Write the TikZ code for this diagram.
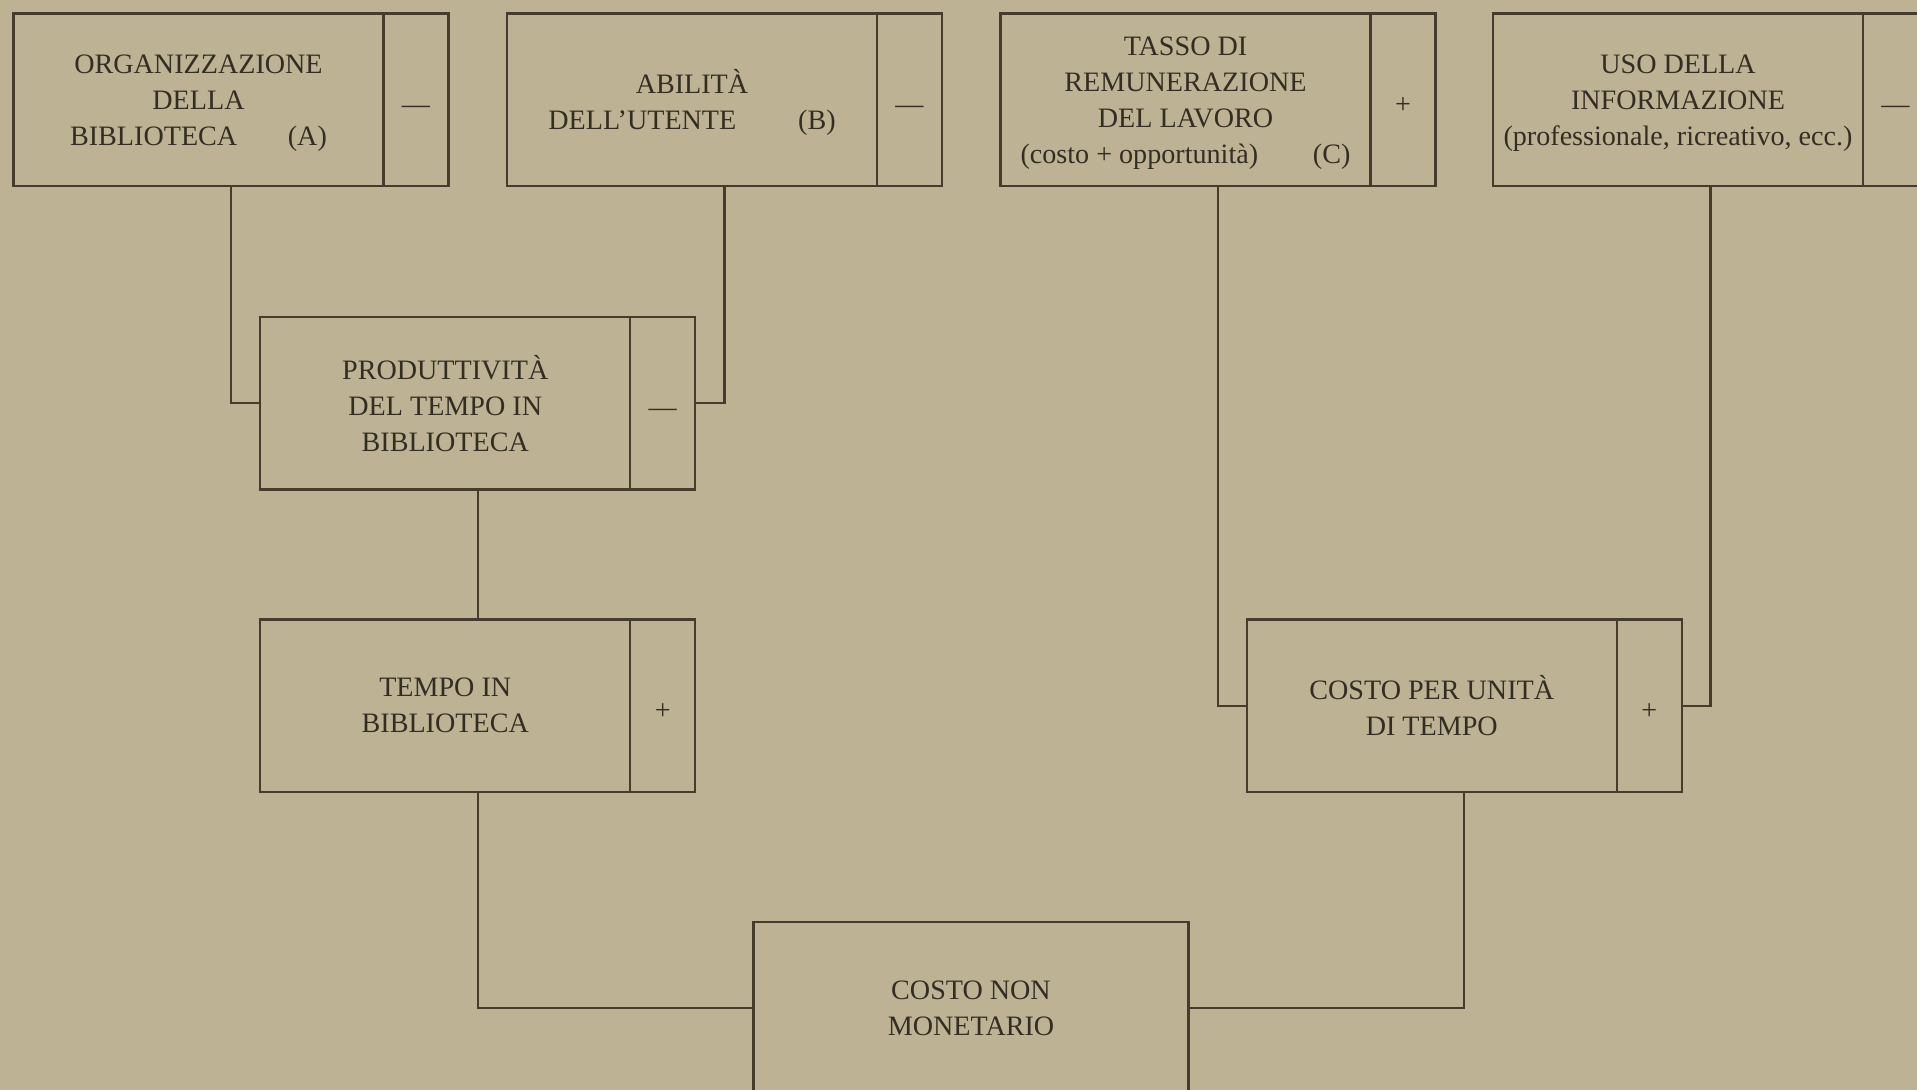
\documentclass[tikz,border=0pt]{standalone}
\usepackage{fontspec}
\setmainfont{Liberation Serif}
\usetikzlibrary{positioning,fit,calc}
\definecolor{paper}{RGB}{189,179,148}
\definecolor{ink}{RGB}{70,60,45}
\definecolor{inktext}{RGB}{52,45,36}
\tikzset{
  lab/.style={rectangle, draw=ink, line width=1.2pt, outer sep=0pt, minimum width=7.4cm, minimum height=3.45cm, align=center, inner sep=2pt, text=inktext, font=\fontsize{16}{20.5}\selectfont},
  headbox/.style={lab, text depth=-3.2pt},
  sgn/.style={lab, minimum width=1.3cm, text height=15.6pt, text depth=0pt},
  whole/.style={inner sep=0pt, outer sep=0pt},
  conn/.style={draw=ink, line width=1.2pt}
}

\begin{document}
\begin{tikzpicture}
\fill[paper] (0,0) rectangle (38.34,-21.8);
\useasboundingbox (0,0) rectangle (38.34,-21.8);
\clip (0,0) rectangle (38.34,-21.8);

% top row
\node[headbox, anchor=north west] (orgt) at (0.27,-0.27) {ORGANIZZAZIONE\\DELLA\\BIBLIOTECA\hspace{1.8em}(A)};
\node[sgn, right=0pt of orgt] (orgs) {---};
\node[whole, fit=(orgt)(orgs)] (org) {};

\node[headbox, right=1.17cm of orgs] (abilt) {ABILITÀ\\DELL’UTENTE\hspace{2.2em}(B)};
\node[sgn, right=0pt of abilt] (abils) {---};
\node[whole, fit=(abilt)(abils)] (abil) {};

\node[headbox, right=1.17cm of abils] (tassot) {TASSO DI\\REMUNERAZIONE\\DEL LAVORO\\(costo + opportunità)\hspace{1.95em}(C)};
\node[sgn, right=0pt of tassot] (tassos) {+};
\node[whole, fit=(tassot)(tassos)] (tasso) {};

\node[headbox, right=1.15cm of tassos] (usot) {USO DELLA\\INFORMAZIONE\\(professionale, ricreativo, ecc.)};
\node[sgn, right=0pt of usot] (usos) {---};
\node[whole, fit=(usot)(usos)] (uso) {};

% left branch
\node[lab, anchor=north] (prodt) at ($(org.south)!0.5!(abil.south)+(-0.65,-2.62)$) {PRODUTTIVITÀ\\DEL TEMPO IN\\BIBLIOTECA};
\node[sgn, right=0pt of prodt] (prods) {---};
\node[whole, fit=(prodt)(prods)] (prod) {};

\node[lab, below=2.6cm of prodt] (tempot) {TEMPO IN\\BIBLIOTECA};
\node[sgn, right=0pt of tempot] (tempos) {+};
\node[whole, fit=(tempot)(tempos)] (tempo) {};

% right branch
\coordinate (uc) at ($(tasso.south)!0.5!(uso.south)+(-0.65,0)$);
\node[lab, anchor=north] (costout) at (uc |- tempot.north) {COSTO PER UNITÀ\\DI TEMPO};
\node[sgn, right=0pt of costout] (costous) {+};
\node[whole, fit=(costout)(costous)] (costou) {};

% bottom
\coordinate (nc) at ($(tempo.south)!0.5!(costou.south)$);
\node[lab, minimum width=8.7cm, below=2.6cm of nc] (costonm) {COSTO NON\\MONETARIO};

\draw[conn] (org.south) |- (prod.west);
\draw[conn] (abil.south) |- (prod.east);
\draw[conn] (prod.south) -- (tempo.north);
\draw[conn] (tempo.south) |- (costonm.west);
\draw[conn] (tasso.south) |- (costou.west);
\draw[conn] (uso.south) |- (costou.east);
\draw[conn] (costou.south) |- (costonm.east);
\end{tikzpicture}
\end{document}
